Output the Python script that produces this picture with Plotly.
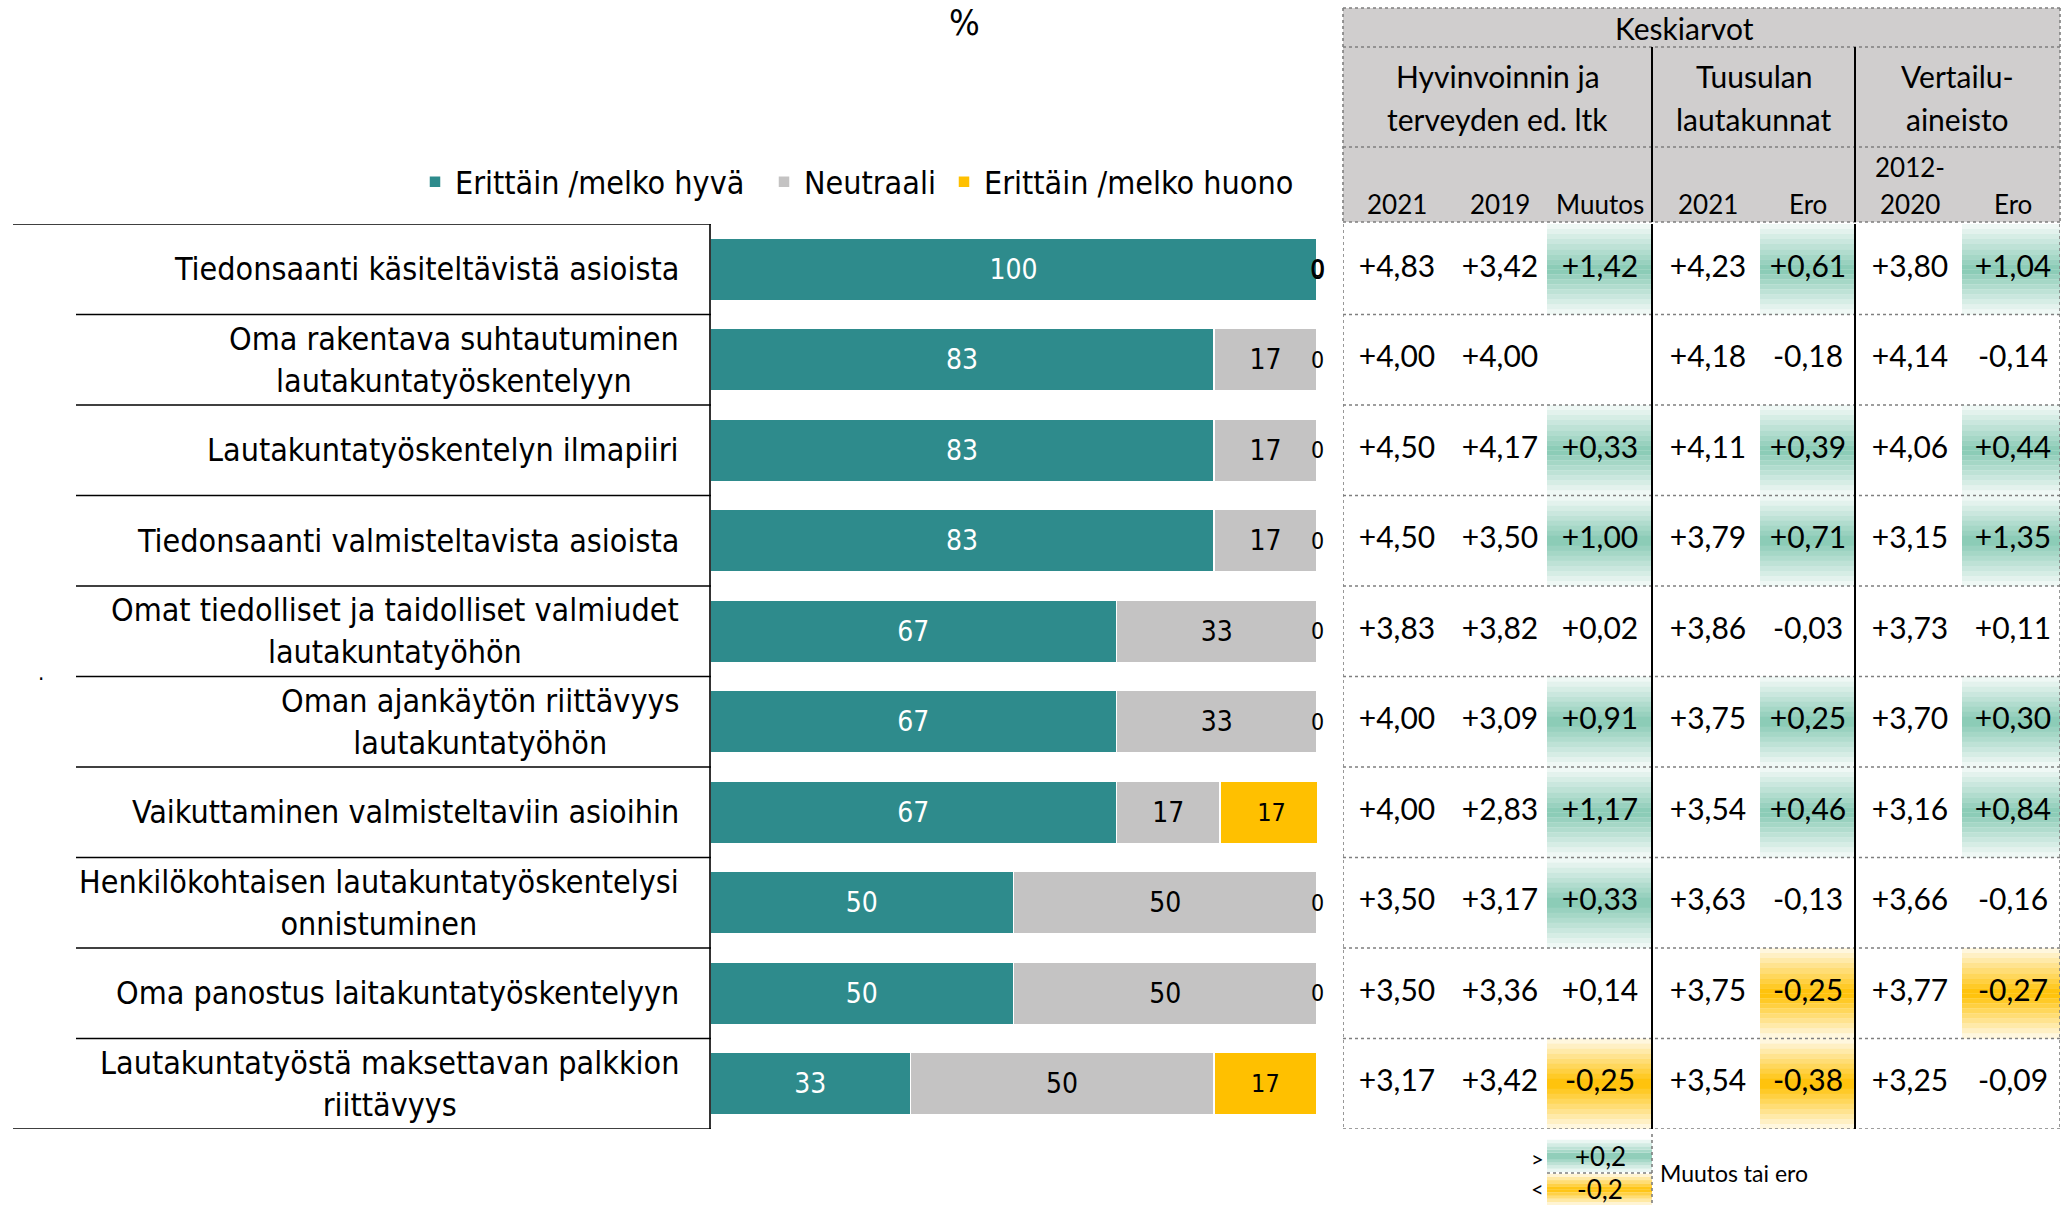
import plotly.graph_objects as go

W, H = 2063, 1205

# ---------------- data ----------------
categories = [
    "Tiedonsaanti käsiteltävistä asioista",
    "Oma rakentava suhtautuminen<br>lautakuntatyöskentelyyn",
    "Lautakuntatyöskentelyn ilmapiiri",
    "Tiedonsaanti valmisteltavista asioista",
    "Omat tiedolliset ja taidolliset valmiudet<br>lautakuntatyöhön",
    "Oman ajankäytön riittävyys<br>lautakuntatyöhön",
    "Vaikuttaminen valmisteltaviin asioihin",
    "Henkilökohtaisen lautakuntatyöskentelysi<br>onnistuminen",
    "Oma panostus laitakuntatyöskentelyyn",
    "Lautakuntatyöstä maksettavan palkkion<br>riittävyys",
]
good = [100, 83, 83, 83, 67, 67, 67, 50, 50, 33]
neutral = [0, 17, 17, 17, 33, 33, 17, 50, 50, 50]
bad = [0, 0, 0, 0, 0, 0, 17, 0, 0, 17]
series_names = ["Erittäin /melko hyvä", "Neutraali", "Erittäin /melko huono"]

hyte_2021 = [4.83, 4.00, 4.50, 4.50, 3.83, 4.00, 4.00, 3.50, 3.50, 3.17]
hyte_2019 = [3.42, 4.00, 4.17, 3.50, 3.82, 3.09, 2.83, 3.17, 3.36, 3.42]
hyte_muutos = [1.42, None, 0.33, 1.00, 0.02, 0.91, 1.17, 0.33, 0.14, -0.25]
tuusula_2021 = [4.23, 4.18, 4.11, 3.79, 3.86, 3.75, 3.54, 3.63, 3.75, 3.54]
tuusula_ero = [0.61, -0.18, 0.39, 0.71, -0.03, 0.25, 0.46, -0.13, -0.25, -0.38]
vertailu = [3.80, 4.14, 4.06, 3.15, 3.73, 3.70, 3.16, 3.66, 3.77, 3.25]
vertailu_ero = [1.04, -0.14, 0.44, 1.35, 0.11, 0.30, 0.84, -0.16, -0.27, -0.09]
threshold = 0.2

header_top = "Keskiarvot"
group_headers = [["Hyvinvoinnin ja", "terveyden ed. ltk"], ["Tuusulan", "lautakunnat"], ["Vertailu-", "aineisto"]]
sub_headers = [["", "2021"], ["", "2019"], ["", "Muutos"], ["", "2021"], ["", "Ero"], ["2012-", "2020"], ["", "Ero"]]

# ---------------- style ----------------
TEAL = "#2E8B8C"
GREY = "#C4C3C3"
YELLOW = "#FFC000"
GREEN_HL = "#86C9B3"
HEADER_BG = "#D0CECE"
LBL = "DejaVu Sans Condensed, DejaVu Sans, sans-serif"
TBL = "Lato, sans-serif"


def px(x):
    return x / W


def py(y):
    return 1 - y / H


fig = go.Figure()

colors = [TEAL, GREY, YELLOW]
tcolors = ["white", "black", "black"]
tsizes = [28, 28, 25]
legend_ids = ["legend", "legend2", "legend3"]
legend_x = [415, 764, 944]
for name, vals, c, tc, ts, lg in zip(series_names, [good, neutral, bad], colors, tcolors, tsizes, legend_ids):
    fig.add_trace(go.Bar(
        y=categories, x=vals, orientation="h", name=name, legend=lg,
        marker=dict(color=c, line=dict(color="white", width=1.5)),
        text=[str(v) if v > 0 else "" for v in vals],
        textposition="inside", insidetextanchor="middle", textangle=0,
        constraintext="none",
        textfont=dict(color=tc, size=ts, family=LBL),
        hoverinfo="skip", xaxis="x", yaxis="y",
    ))

annotations = []
shapes = []


def ann(x, y, text, size, family, xref="paper", yref="paper", xanchor="center", yanchor="middle",
        align="center", color="black", yshift=0):
    annotations.append(dict(x=x, y=y, xref=xref, yref=yref, text=text, showarrow=False,
                            xanchor=xanchor, yanchor=yanchor, align=align, yshift=yshift,
                            font=dict(size=size, color=color, family=family)))


# zero labels at bar ends
for i, cat in enumerate(categories):
    if neutral[i] == 0:
        ann(good[i] + neutral[i], cat, "0", 27, LBL, xref="x", yref="y")
    if bad[i] == 0:
        ann(good[i] + neutral[i] + bad[i], cat, "0", 23, LBL, xref="x", yref="y")

# category labels
for cat in categories:
    ann(px(681), cat, cat, 32, LBL, yref="y", xanchor="right", align="center")

# label separator lines
n = len(categories)
for k in range(n + 1):
    x0 = 13 if k in (0, n) else 76
    shapes.append(dict(type="line", xref="paper", yref="y", x0=px(x0), x1=px(711),
                       y0=k - 0.5, y1=k - 0.5, line=dict(color="black", width=1.6)))
shapes.append(dict(type="line", xref="paper", yref="y", x0=px(710), x1=px(710),
                   y0=-0.5, y1=n - 0.5, line=dict(color="black", width=1.6)))

# ---------------- table ----------------
TL, TR = 1343, 2060
col_edges = [1343, 1447, 1547, 1652, 1760, 1855, 1962, 2060]
col_centers = [1397, 1500, 1600, 1708, 1808, 1910, 2013]
table_cols = [hyte_2021, hyte_2019, hyte_muutos, tuusula_2021, tuusula_ero, vertailu, vertailu_ero]
diff_cols = {2, 4, 6}


def mix(c, a):
    c = c.lstrip("#")
    r, g, b = int(c[0:2], 16), int(c[2:4], 16), int(c[4:6], 16)
    return "rgb(%d,%d,%d)" % (round(255 + (r - 255) * a), round(255 + (g - 255) * a), round(255 + (b - 255) * a))


def grad(xref, yref, x0, x1, y0, y1, color, nstrip=18):
    h = (y1 - y0) / nstrip
    for k in range(nstrip):
        t = (k + 0.5) / nstrip
        a = 1 - abs(2 * t - 1)
        a = 0.08 + 0.92 * a
        shapes.append(dict(type="rect", xref=xref, yref=yref, x0=x0, x1=x1,
                           y0=y0 + k * h, y1=y0 + (k + 1) * h + h * 0.05,
                           fillcolor=mix(color, a), line=dict(width=0), layer="below"))


# header background
shapes.append(dict(type="rect", xref="paper", yref="paper", x0=px(TL), x1=px(TR), y0=py(8), y1=py(222),
                   fillcolor=HEADER_BG, line=dict(width=0), layer="below"))

# conditional highlights
for ci in diff_cols:
    for i, v in enumerate(table_cols[ci]):
        if v is None:
            continue
        if v > threshold:
            grad("x2", "y", col_edges[ci], col_edges[ci + 1], i - 0.5, i + 0.5, GREEN_HL)
        elif v < -threshold:
            grad("x2", "y", col_edges[ci], col_edges[ci + 1], i - 0.5, i + 0.5, YELLOW)

DOT = dict(color="#7F7F7F", width=1.6, dash="dot")
for yy in [8, 47, 147, 222]:
    shapes.append(dict(type="line", xref="paper", yref="paper", x0=px(TL), x1=px(TR), y0=py(yy), y1=py(yy), line=DOT))
for k in range(1, n + 1):
    shapes.append(dict(type="line", xref="x2", yref="y", x0=TL, x1=TR, y0=k - 0.5, y1=k - 0.5, line=DOT))
for xx in [TL, TR]:
    shapes.append(dict(type="line", xref="paper", yref="paper", x0=px(xx), x1=px(xx), y0=py(8), y1=py(222), line=DOT))
    shapes.append(dict(type="line", xref="x2", yref="y", x0=xx, x1=xx, y0=-0.5, y1=n - 0.5, line=DOT))
for xx in [1652, 1855]:
    shapes.append(dict(type="line", xref="paper", yref="paper", x0=px(xx), x1=px(xx), y0=py(47), y1=py(222),
                       line=dict(color="black", width=2)))
    shapes.append(dict(type="line", xref="x2", yref="y", x0=xx, x1=xx, y0=-0.5, y1=n - 0.5,
                       line=dict(color="black", width=2)))


def fmt(v):
    if v is None:
        return ""
    return ("%+.2f" % v).replace(".", ",")


tx, ty, tt = [], [], []
for ci, col in enumerate(table_cols):
    for i, v in enumerate(col):
        tx.append(col_centers[ci])
        ty.append(categories[i])
        tt.append(fmt(v))
fig.add_trace(go.Scatter(x=tx, y=ty, text=tt, mode="text", xaxis="x2", yaxis="y",
                         textfont=dict(size=30, color="black", family=TBL),
                         showlegend=False, hoverinfo="skip"))

# headers
ann(px(1684), py(28), header_top, 30, TBL)
group_centers = [(1343 + 1652) / 2, (1652 + 1855) / 2, (1855 + 2060) / 2]
for gc, lines in zip(group_centers, group_headers):
    for ln, yy in zip(lines, [76, 119]):
        ann(px(gc), py(yy), ln, 30, TBL)
for cc, lines in zip(col_centers, sub_headers):
    for ln, yy in zip(lines, [167, 204]):
        if ln:
            ann(px(cc), py(yy), ln, 26, TBL)

# bottom legend for highlights
grad("paper", "paper", px(1547), px(1652), py(1172), py(1140), GREEN_HL, 10)
grad("paper", "paper", px(1547), px(1652), py(1205), py(1174), YELLOW, 10)
shapes.append(dict(type="line", xref="paper", yref="paper", x0=px(1547), x1=px(1652), y0=py(1173), y1=py(1173), line=DOT))
shapes.append(dict(type="line", xref="paper", yref="paper", x0=px(1652), x1=px(1652), y0=py(1134), y1=py(1205), line=DOT))
for txt, yy in [("+0,2", 1156), ("-0,2", 1189)]:
    ann(px(1600), py(yy), txt, 26, TBL)
for txt, yy in [("&gt;", 1158), ("&lt;", 1188)]:
    ann(px(1537), py(yy), txt, 22, TBL)
ann(px(1658), py(1173), "Muutos tai ero", 23, TBL, xanchor="left")

# misc text
ann(px(964), py(22), "%", 36, LBL)
ann(px(41), py(672), ".", 22, LBL)

legend_common = dict(orientation="h", yanchor="middle", xanchor="left",
                     font=dict(size=32, color="black", family=LBL), bgcolor="rgba(0,0,0,0)",
                     itemclick=False, itemdoubleclick=False)
fig.update_layout(
    width=W, height=H,
    margin=dict(l=0, r=0, t=0, b=0),
    paper_bgcolor="white", plot_bgcolor="rgba(0,0,0,0)",
    barmode="stack", bargap=0.31,
    xaxis=dict(domain=[px(710), px(1317)], range=[0, 100], visible=False, fixedrange=True),
    xaxis2=dict(domain=[px(TL), px(TR)], range=[TL, TR], visible=False, anchor="y", fixedrange=True),
    yaxis=dict(domain=[py(1129), py(224)], type="category", categoryorder="array",
               categoryarray=categories, range=[n - 0.5, -0.5], visible=False, fixedrange=True),
    showlegend=True,
    legend=dict(x=px(legend_x[0]), y=py(182), **legend_common),
    legend2=dict(x=px(legend_x[1]), y=py(182), **legend_common),
    legend3=dict(x=px(legend_x[2]), y=py(182), **legend_common),
    shapes=shapes, annotations=annotations,
)

fig.write_html("out.html", config={"displayModeBar": False},
               post_script="document.body.style.margin='0px';document.body.style.overflow='hidden';")
